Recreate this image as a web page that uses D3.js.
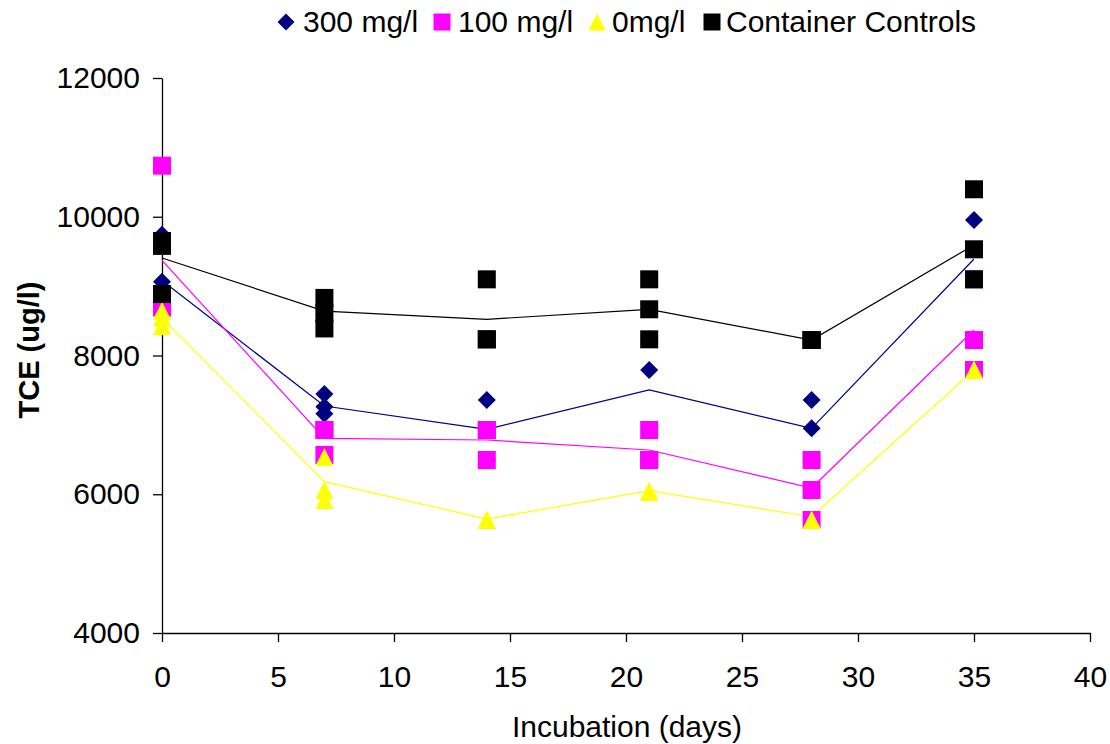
<!DOCTYPE html>
<html>
<head>
<meta charset="utf-8">
<script src="https://cdn.jsdelivr.net/npm/d3@7"></script>
<style>
  html, body { margin: 0; padding: 0; background: #fff; }
  svg { display: block; font-family: "Liberation Sans", Arial, sans-serif; }
</style>
</head>
<body>
<svg id="chart" width="1110" height="744"></svg>
<script>
// Sampling days
const days = [0, 7, 14, 21, 28, 35];

// Replicate TCE readings (ug/l) per sampling day
const conc300 = [
  [9740, 9064, 8600],
  [7445, 7260, 7160],
  [7359, 6926, 6494],
  [7791, 8233, 6494],
  [7359, 6950, 6494],
  [9953, 9098, 9098]
];
const conc100 = [
  [10736, 8703, 8692],
  [6926, 6926, 6566],
  [6926, 6494, 6926],
  [6926, 6494, 6494],
  [6494, 6061, 5629],
  [8223, 7791, 9098]
];
const conc0 = [
  [8646, 8425, 8549],
  [6537, 6061, 5917],
  [5629, 5629, 5629],
  [6040, 6040, 6040],
  [5629, 5629, 5629],
  [7791, 7791, 7791]
];
const controls = [
  [9650, 9580, 8886],
  [8830, 8610, 8390],
  [9098, 8233, 8233],
  [9098, 8666, 8233],
  [8223, 8223, 8223],
  [10396, 9531, 9098]
];

// Mean trend per treatment
const mean300 = [9080, 7272, 6936, 7503, 6950, 9391];
const mean100 = [9370, 6806, 6782, 6638, 6090, 8368];
const mean0 = [8540, 6181, 5643, 6051, 5676, 7791];
const meanControls = [9405, 8641, 8522, 8666, 8223, 9593];

const seriesNames = ["300 mg/l", "100 mg/l", "0mg/l", "Container Controls"];
const seriesColors = ["#000080", "#FF00FF", "#FFFF00", "#000000"];
const seriesShapes = ["diamond", "square", "triangle", "square"];

const xTicks = [0, 5, 10, 15, 20, 25, 30, 35, 40];
const yTicks = [4000, 6000, 8000, 10000, 12000];

const xTitle = "Incubation (days)";
const yTitle = "TCE (ug/l)";

const series = [
  { reps: conc300, mean: mean300 },
  { reps: conc100, mean: mean100 },
  { reps: conc0, mean: mean0 },
  { reps: controls, mean: meanControls }
].map((s, i) => ({ ...s, name: seriesNames[i], color: seriesColors[i], shape: seriesShapes[i] }));

const svg = d3.select("#chart");
const plot = { left: 162, right: 1090, top: 78, bottom: 633 };

const x = d3.scaleLinear().domain([0, 40]).range([plot.left, plot.right]);
const y = d3.scaleLinear().domain([4000, 12000]).range([plot.bottom, plot.top]);

// Marker outlines centred on the origin
function markerPath(shape, s) {
  const h = s / 2;
  const p = d3.path();
  if (shape === "diamond") {
    p.moveTo(0, -h); p.lineTo(h, 0); p.lineTo(0, h); p.lineTo(-h, 0); p.closePath();
  } else if (shape === "triangle") {
    p.moveTo(0, -h); p.lineTo(h, h); p.lineTo(-h, h); p.closePath();
  } else {
    p.rect(-h, -h, s, s);
  }
  return p.toString();
}

// Axes
const yAxis = d3.axisLeft(y).tickValues(yTicks).tickFormat(d3.format("d"))
  .tickSize(9).tickSizeOuter(0).tickPadding(13);
const xAxis = d3.axisBottom(x).tickValues(xTicks).tickFormat(d3.format("d"))
  .tickSize(9).tickSizeOuter(0).tickPadding(24);

const gy = svg.append("g").attr("transform", `translate(${plot.left},0)`).call(yAxis);
const gx = svg.append("g").attr("transform", `translate(0,${plot.bottom})`).call(xAxis);
[gx, gy].forEach(g => {
  g.selectAll("path.domain").attr("stroke", "#000").attr("stroke-width", 1.3);
  g.selectAll(".tick line").attr("stroke", "#000").attr("stroke-width", 1.3);
  g.selectAll("text").attr("fill", "#000").attr("font-size", 30)
    .attr("font-family", "'Liberation Sans', Arial, sans-serif");
});

// Trend lines
const line = d3.line().x((d, i) => x(days[i])).y(d => y(d));
series.forEach(s => {
  svg.append("path").datum(s.mean)
    .attr("d", line)
    .attr("fill", "none")
    .attr("stroke", s.color)
    .attr("stroke-width", 1.2);
});

// Replicate markers
series.forEach(s => {
  const pts = [];
  s.reps.forEach((vals, i) => vals.forEach(v => pts.push({ day: days[i], v })));
  svg.append("g").selectAll("path").data(pts).join("path")
    .attr("transform", d => `translate(${x(d.day)},${y(d.v)})`)
    .attr("d", markerPath(s.shape, 18))
    .attr("fill", s.color);
});

// Axis titles
svg.append("text")
  .attr("x", 627).attr("y", 737)
  .attr("text-anchor", "middle")
  .attr("font-size", 30)
  .text(xTitle);

svg.append("text")
  .attr("transform", "translate(39,350) rotate(-90)")
  .attr("text-anchor", "middle")
  .attr("font-size", 29)
  .attr("font-weight", "bold")
  .text(yTitle);

// Legend
const legendItems = [
  { mx: 286, tx: 303, size: 17 },
  { mx: 442, tx: 458, size: 17 },
  { mx: 597, tx: 612, size: 17 },
  { mx: 712, tx: 726, size: 17 }
];
const legend = svg.append("g");
series.forEach((s, i) => {
  const it = legendItems[i];
  legend.append("path")
    .attr("transform", `translate(${it.mx},22)`)
    .attr("d", markerPath(s.shape, it.size))
    .attr("fill", s.color);
  legend.append("text")
    .attr("x", it.tx).attr("y", 32)
    .attr("font-size", 30)
    .text(s.name);
});
</script>
</body>
</html>
